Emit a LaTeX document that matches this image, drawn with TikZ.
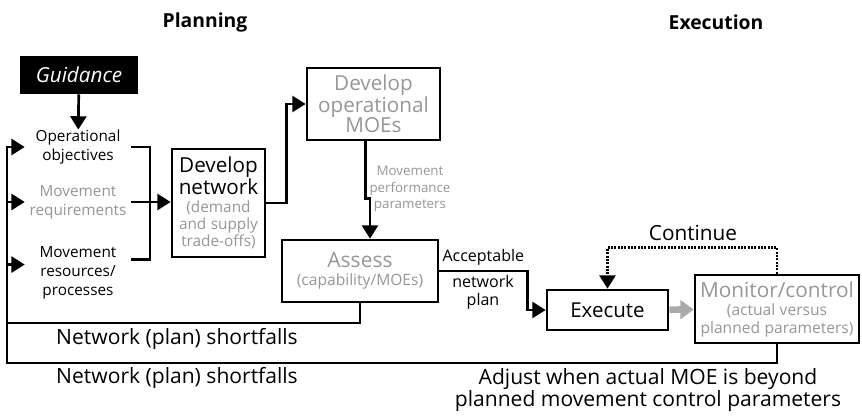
\documentclass[tikz,border=0pt]{standalone}
\usepackage{fontspec}
\setmainfont{Open Sans}
\usetikzlibrary{arrows.meta}
\definecolor{txtgray}{RGB}{150,150,150}
\definecolor{arrgray}{RGB}{170,170,170}
\tikzstyle{heading} = [font=\fontsize{14.5}{16}\selectfont\bfseries]
\tikzstyle{guide} = [rectangle, 
fill=black, 
text=white, 
font=\fontsize{15.5}{18}\selectfont\itshape, 
minimum width=88.5pt, 
minimum height=28.5pt]
\tikzstyle{inputtxt} = [align=center, 
text width=79.5pt, 
inner sep=0pt, 
font=\fontsize{11.5}{14.25}\selectfont]
\tikzstyle{box} = [rectangle, 
draw=black, 
line width=2pt, 
align=center, 
inner sep=1pt]
\tikzstyle{note} = [align=center, font=\fontsize{15.8}{17}\selectfont]
\tikzstyle{link} = [line width=2pt]
\tikzstyle{arrow} = [line width=2pt,-{Triangle[length=10pt,width=12pt]}]
\tikzstyle{grayarrow} = [line width=5pt,-{Triangle[length=10pt,width=14pt]}, draw=arrgray]
\tikzstyle{dotarrow} = [line width=2pt,-{Triangle[length=10pt,width=12pt]}, dash pattern=on 1.5pt off 1pt]

\begin{document}
\begin{tikzpicture}[x=0.75pt,y=-0.75pt]
		\useasboundingbox (0,0) rectangle (862,416);
		
		\node (plan) [heading] at (205,22) {Planning};
		\node (exec) [heading] at (716,22) {Execution};
		
		\node (guidance) [guide] at (79,75) {Guidance};
		\node (obj) [inputtxt] at (78,147) {Operational\\objectives};
		\node (req) [inputtxt, text=txtgray] at (78,202) {Movement\\requirements};
		\node (res) [inputtxt] at (78,273) {Movement\\resources/\\processes};
		
		\node (devnet) [box, minimum width=69.75pt, minimum height=81pt, text width=66pt] at (218.5,203) 
		{{\fontsize{15.5}{14.25}\selectfont Develop\\network\par}\vspace{1pt}
			{\color{txtgray}\fontsize{11.5}{12.75}\selectfont (demand\\and supply\\trade-offs)\par}};
		\node (devmoe) [box, minimum width=99.75pt, minimum height=54pt, text=txtgray, 
		font=\fontsize{15.5}{15}\selectfont] at (373.5,104) {Develop\\operational\\MOEs};
		\node (perf) [align=center, text=txtgray, font=\fontsize{10}{12.5}\selectfont] at (410,189) 
		{Movement\\performance\\parameters};
		\node (assess) [box, minimum width=117pt, minimum height=46.5pt, text width=114pt, text=txtgray] at (360,271) 
		{{\fontsize{15.75}{16}\selectfont Assess\par}
			{\fontsize{11.7}{14}\selectfont (capability/MOEs)\par}};
		\node (execute) [box, minimum width=90.75pt, minimum height=30pt, 
		font=\fontsize{15.4}{17}\selectfont] at (607.5,310) {Execute};
		\node (monitor) [box, minimum width=123pt, minimum height=51pt, text width=120pt, text=txtgray] at (777,309) 
		{{\fontsize{15.6}{16}\selectfont Monitor/control\par}
			{\fontsize{11.7}{13.5}\selectfont (actual versus\\planned parameters)\par}};
		
		\coordinate (brk) at (150,202);
		\coordinate (fbA) at (7,323);
		\coordinate (fbB) at (7,363);
		
		\draw [arrow] (guidance) -- (obj);
		\draw [link] (obj.east) -| (brk) |- (res.14);
		\draw [arrow] (req.east) -- (req.east -| devnet.west);
		\draw [arrow] (devnet.east) -- ++(20,0) |- (devmoe.west);
		\draw [arrow] ([xshift=-6pt]devmoe.south) -- ++(0,57) -| ([xshift=7.5pt]assess.north);
		\draw [arrow] (assess.east) -- ++(88,0) node[pos=0.5, above, font=\fontsize{12}{14}\selectfont] {Acceptable} 
		|- (execute.west);
		\node (netplan) [align=center, font=\fontsize{12}{13.5}\selectfont] at (483,292) {network\\plan};
		\draw [grayarrow] (execute) -- (monitor);
		\draw [dotarrow] (monitor.north) -- ++(0,-26) -| (execute.north);
		\node (cont) [font=\fontsize{15.6}{17}\selectfont] at (693,233) {Continue};
		
		\draw [link] (assess.south) |- (fbA);
		\draw [arrow] (monitor.south) |- (fbB) |- (obj.west);
		\draw [arrow] (fbA |- req.west) -- (req.west);
		\draw [arrow] (fbA |- res.171) -- (res.171);
		
		\node (short1) [note] at (177,339) {Network (plan) shortfalls};
		\node (short2) [note] at (177,378) {Network (plan) shortfalls};
		\node (adjust) [note] at (648,390) {Adjust when actual MOE is beyond\\planned movement control parameters};
		
	\end{tikzpicture}
\end{document}
